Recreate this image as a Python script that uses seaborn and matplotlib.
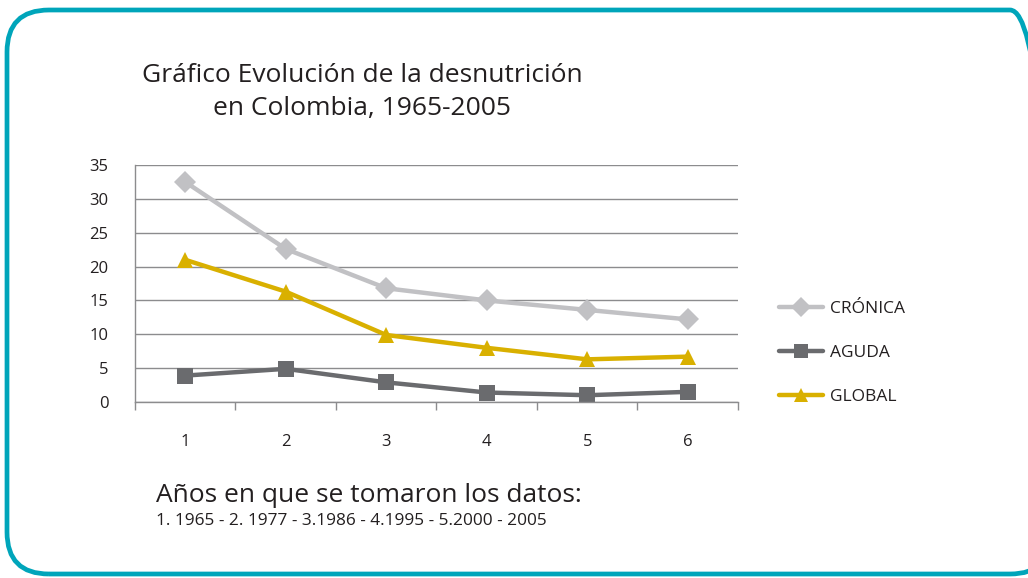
import pandas as pd
import matplotlib.pyplot as plt
import numpy as np
import seaborn as sns
from matplotlib.patches import FancyBboxPatch
from matplotlib.transforms import IdentityTransform

# Data
periodos = [1, 2, 3, 4, 5, 6]
cronica = [32.5, 22.6, 16.8, 15.0, 13.6, 12.2]
aguda = [3.9, 4.9, 2.9, 1.4, 1.0, 1.5]
global_ = [21.0, 16.3, 9.9, 8.0, 6.3, 6.7]
series = ['CRÓNICA', 'AGUDA', 'GLOBAL']
colores = ['#c1c1c4', '#6a6b6e', '#d9b000']

df = pd.concat([
    pd.DataFrame({'periodo': periodos, 'valor': cronica, 'serie': 'CRÓNICA'}),
    pd.DataFrame({'periodo': periodos, 'valor': aguda, 'serie': 'AGUDA'}),
    pd.DataFrame({'periodo': periodos, 'valor': global_, 'serie': 'GLOBAL'}),
])

sns.set_style('white')
plt.rcParams['font.family'] = ['Open Sans', 'DejaVu Sans']
text_color = '#231f20'

fig = plt.figure(figsize=(10.28, 5.78), dpi=100)
ax = fig.add_axes([0.1313, 0.3045, 0.5866, 0.41])

sns.lineplot(data=df, x='periodo', y='valor', hue='serie', style='serie',
             hue_order=series, style_order=series,
             palette=dict(zip(series, colores)),
             markers={'CRÓNICA': 'D', 'AGUDA': 's', 'GLOBAL': '^'},
             dashes=False, linewidth=3.2, markersize=11, markeredgewidth=0,
             ax=ax)

ax.set_xlim(0.5, 6.5)
ax.set_ylim(0, 35)
ax.set_yticks(np.arange(0, 36, 5))
ax.set_xticks(periodos)
ax.set_xticks(np.arange(0.5, 7, 1), minor=True)
ax.grid(axis='y', color='#8c8c8e', linewidth=1)
ax.set_axisbelow(True)
for s in ['top', 'right']:
    ax.spines[s].set_visible(False)
for s in ['left', 'bottom']:
    ax.spines[s].set_color('#8c8c8e')
    ax.spines[s].set_linewidth(1)
ax.tick_params(axis='y', length=5, width=1, color='#8c8c8e', labelsize=12,
               labelcolor=text_color, pad=14)
ax.tick_params(axis='x', which='major', length=0, labelsize=12,
               labelcolor=text_color, pad=23)
ax.tick_params(axis='x', which='minor', length=6, width=1, color='#8c8c8e',
               bottom=True)
ax.set_xlabel('')
ax.set_ylabel('')

handles, labels = ax.get_legend_handles_labels()
ax.legend(handles, labels, loc='center left', bbox_to_anchor=(0.743, 0.39),
          bbox_transform=fig.transFigure, frameon=False, fontsize=12.5,
          labelspacing=1.6, handlelength=2.5, handletextpad=0.4,
          labelcolor=text_color, markerscale=0.95)

fig.text(0.352, 0.841, 'Gráfico Evolución de la desnutrición\nen Colombia, 1965-2005',
         ha='center', va='center', fontsize=19, color=text_color,
         linespacing=1.4)
fig.text(0.152, 0.143, 'Años en que se tomaron los datos:', ha='left',
         va='center', fontsize=19, color=text_color)
fig.text(0.152, 0.098, '1. 1965 - 2. 1977 - 3.1986 - 4.1995 - 5.2000 - 2005',
         ha='left', va='center', fontsize=12.4, color=text_color)

borde = FancyBboxPatch((7, 4), 1045, 564,
                       boxstyle='round,pad=0,rounding_size=42',
                       transform=IdentityTransform(), fill=False,
                       edgecolor='#00a5ba', linewidth=3.4)
fig.patches.append(borde)

fig.savefig('out.png', dpi=100)
